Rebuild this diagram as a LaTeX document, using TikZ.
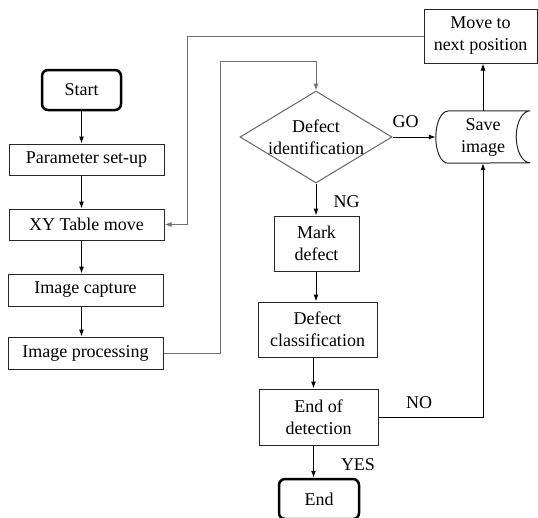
\documentclass[tikz,border=0pt]{standalone}
\usepackage{fontspec}
\setmainfont{Liberation Serif}
\usetikzlibrary{shapes.geometric,arrows.meta}

\begin{document}
\begin{tikzpicture}[x=1pt,y=-1pt,
  font=\fontsize{18}{22}\selectfont,
  >={Latex[length=7pt,width=5pt]},
  box/.style={draw=black!85,line width=1pt,inner sep=0pt,align=center},
  terminal/.style={draw=black,line width=2.5pt,rounded corners=6pt,inner sep=0pt,minimum width=79pt,minimum height=40pt},
  loopline/.style={draw=black!55,line width=1pt},
  lbl/.style={anchor=base,inner sep=0pt}]

\useasboundingbox (0,0) rectangle (538,517);

\node[terminal] (start) at (81.5,90) {Start};
\node[box,minimum width=155pt,minimum height=31pt] (param) at (86.5,159.5) {Parameter set-up};
\node[box,minimum width=155pt,minimum height=31pt] (xy) at (86.5,224.5) {XY Table move};
\node[box,minimum width=155pt,minimum height=32pt] (capture) at (85.5,290) {Image capture};
\node[box,minimum width=155pt,minimum height=32pt] (proc) at (85.5,353) {Image processing};

\node[box,minimum width=113pt,minimum height=54pt] (move) at (480.5,36) {Move to\\next position};
\node[diamond,draw=black!60,line width=1pt,inner sep=0pt,minimum width=152pt,minimum height=92pt] (ident) at (316,137) {};
\node[align=center] (identtext) at (ident) {Defect\\identification};
\node[align=center,inner sep=0pt,minimum width=94pt,minimum height=52pt] (save) at (483,137) {Save\\image};
\draw[black!85,line width=1pt] ([xshift=12pt]save.north west) -- (save.north east)
  arc[start angle=90,end angle=270,x radius=14pt,y radius=26pt]
  -- ([xshift=12pt]save.south west)
  arc[start angle=270,end angle=90,x radius=12pt,y radius=26pt];

\node[box,minimum width=85pt,minimum height=55pt] (mark) at (316.5,243.5) {Mark\\defect};
\node[box,minimum width=119pt,minimum height=55pt] (classify) at (317.5,329.5) {Defect\\classification};
\node[box,minimum width=119pt,minimum height=56pt] (detect) at (318.5,417) {End of\\detection};
\node[terminal,minimum width=80pt] (end) at (319,499) {End};

\coordinate (c1) at (220,61);
\coordinate (c2) at (187,36);

\draw[->,line width=1pt] (start.south) -- (start.south |- param.north);
\draw[->,line width=1pt] (start.south |- param.south) -- (start.south |- xy.north);
\draw[->,line width=1pt] (start.south |- xy.south) -- (start.south |- capture.north);
\draw[->,line width=1pt] (start.south |- capture.south) -- (start.south |- proc.north);
\draw[->,loopline] (proc.east) -| (c1) -| (ident.north);
\draw[->,loopline] (move.west) -- (c2) |- (xy.east);
\draw[->,line width=1pt] (ident.east) -- (save.west);
\draw[->,line width=1pt] (ident.south) -- (ident.south |- mark.north);
\draw[->,line width=1pt] (ident.south |- mark.south) -- (ident.south |- classify.north);
\draw[->,line width=1pt] ([xshift=-4pt]classify.south) -- ([xshift=-4pt]classify.south |- detect.north);
\draw[->,line width=1pt] ([xshift=-5pt]detect.south) -- ([xshift=-5pt]detect.south |- end.north);
\draw[->,line width=1pt] (detect.east) -| (save.south);
\draw[->,line width=1pt] (save.north) -- (save.north |- move.south);

\node[lbl] (go) at (405.5,127) {GO};
\node[lbl] (ng) at (346.5,207) {NG};
\node[lbl] (no) at (419,408) {NO};
\node[lbl] (yes) at (358,470) {YES};

\end{tikzpicture}
\end{document}
